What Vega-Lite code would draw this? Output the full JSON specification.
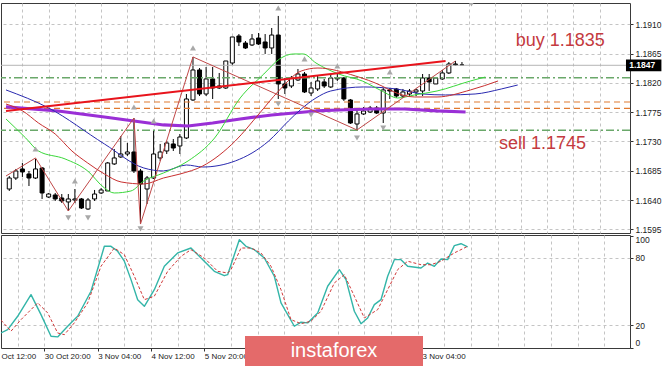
{
  "$schema": "https://vega.github.io/schema/vega-lite/v6.json",
  "padding": {"left": 0, "top": 2, "right": 0, "bottom": 0},
  "background": "white",
  "spacing": 2,
  "bounds": "flush",
  "config": {
    "font": "Liberation Sans",
    "view": {"stroke": "#3a3a3a", "strokeWidth": 1},
    "axis": {"labelFont": "Liberation Sans", "labelColor": "#222222", "domain": false, "gridColor": "#c4c4c4", "gridDash": [3, 3], "tickColor": "#333333", "zindex": 0}
  },
  "datasets": {
    "candles": [
      {"i": -6, "o": 1.16569, "h": 1.16769, "l": 1.16539, "c": 1.16738},
      {"i": -5, "o": 1.16738, "h": 1.16877, "l": 1.16708, "c": 1.16846},
      {"i": -4, "o": 1.16877, "h": 1.16969, "l": 1.16754, "c": 1.16831},
      {"i": -3, "o": 1.16800, "h": 1.16846, "l": 1.16615, "c": 1.16738},
      {"i": -2, "o": 1.16738, "h": 1.17031, "l": 1.16723, "c": 1.16877},
      {"i": -1, "o": 1.16892, "h": 1.16907, "l": 1.16416, "c": 1.16508},
      {"i": 0, "o": 1.16446, "h": 1.16508, "l": 1.16431, "c": 1.16492},
      {"i": 1, "o": 1.16477, "h": 1.16508, "l": 1.16385, "c": 1.16416},
      {"i": 2, "o": 1.16431, "h": 1.16492, "l": 1.16354, "c": 1.16385},
      {"i": 3, "o": 1.16370, "h": 1.16492, "l": 1.16231, "c": 1.16416},
      {"i": 4, "o": 1.16400, "h": 1.16569, "l": 1.16354, "c": 1.16416},
      {"i": 5, "o": 1.16416, "h": 1.16431, "l": 1.16262, "c": 1.16277},
      {"i": 6, "o": 1.16262, "h": 1.16431, "l": 1.16247, "c": 1.16400},
      {"i": 7, "o": 1.16416, "h": 1.16554, "l": 1.16385, "c": 1.16492},
      {"i": 8, "o": 1.16508, "h": 1.16585, "l": 1.16492, "c": 1.16554},
      {"i": 9, "o": 1.16539, "h": 1.16984, "l": 1.16539, "c": 1.16969},
      {"i": 10, "o": 1.16954, "h": 1.17184, "l": 1.16938, "c": 1.17046},
      {"i": 11, "o": 1.17061, "h": 1.17383, "l": 1.17046, "c": 1.17107},
      {"i": 12, "o": 1.17107, "h": 1.17276, "l": 1.17077, "c": 1.17138},
      {"i": 13, "o": 1.17138, "h": 1.17660, "l": 1.16815, "c": 1.16846},
      {"i": 14, "o": 1.16846, "h": 1.16877, "l": 1.16031, "c": 1.16646},
      {"i": 15, "o": 1.16569, "h": 1.16769, "l": 1.16339, "c": 1.16738},
      {"i": 16, "o": 1.16738, "h": 1.17476, "l": 1.16723, "c": 1.17107},
      {"i": 17, "o": 1.17046, "h": 1.17261, "l": 1.17000, "c": 1.17138},
      {"i": 18, "o": 1.17153, "h": 1.17307, "l": 1.17107, "c": 1.17276},
      {"i": 19, "o": 1.17261, "h": 1.17337, "l": 1.17153, "c": 1.17199},
      {"i": 20, "o": 1.17230, "h": 1.17414, "l": 1.17107, "c": 1.17368},
      {"i": 21, "o": 1.17353, "h": 1.18029, "l": 1.17337, "c": 1.17952},
      {"i": 22, "o": 1.17937, "h": 1.18598, "l": 1.17922, "c": 1.18398},
      {"i": 23, "o": 1.18398, "h": 1.18428, "l": 1.17998, "c": 1.18029},
      {"i": 24, "o": 1.18029, "h": 1.18444, "l": 1.17998, "c": 1.18260},
      {"i": 25, "o": 1.18260, "h": 1.18444, "l": 1.17952, "c": 1.18121},
      {"i": 26, "o": 1.18121, "h": 1.18352, "l": 1.18106, "c": 1.18152},
      {"i": 27, "o": 1.18121, "h": 1.18536, "l": 1.18106, "c": 1.18536},
      {"i": 28, "o": 1.18505, "h": 1.18905, "l": 1.18475, "c": 1.18905},
      {"i": 29, "o": 1.18920, "h": 1.18950, "l": 1.18766, "c": 1.18828},
      {"i": 30, "o": 1.18812, "h": 1.18843, "l": 1.18720, "c": 1.18736},
      {"i": 31, "o": 1.18782, "h": 1.18950, "l": 1.18766, "c": 1.18874},
      {"i": 32, "o": 1.18889, "h": 1.18966, "l": 1.18782, "c": 1.18797},
      {"i": 33, "o": 1.18828, "h": 1.18950, "l": 1.18644, "c": 1.18736},
      {"i": 34, "o": 1.18736, "h": 1.19043, "l": 1.18644, "c": 1.18935},
      {"i": 35, "o": 1.18935, "h": 1.19228, "l": 1.17952, "c": 1.18183},
      {"i": 36, "o": 1.18183, "h": 1.18275, "l": 1.18029, "c": 1.18121},
      {"i": 37, "o": 1.18152, "h": 1.18306, "l": 1.18121, "c": 1.18275},
      {"i": 38, "o": 1.18244, "h": 1.18413, "l": 1.18229, "c": 1.18336},
      {"i": 39, "o": 1.18336, "h": 1.18367, "l": 1.18044, "c": 1.18060},
      {"i": 40, "o": 1.18044, "h": 1.18214, "l": 1.17998, "c": 1.18121},
      {"i": 41, "o": 1.18106, "h": 1.18306, "l": 1.18075, "c": 1.18229},
      {"i": 42, "o": 1.18214, "h": 1.18260, "l": 1.18121, "c": 1.18152},
      {"i": 43, "o": 1.18137, "h": 1.18336, "l": 1.18121, "c": 1.18275},
      {"i": 44, "o": 1.18260, "h": 1.18336, "l": 1.18229, "c": 1.18275},
      {"i": 45, "o": 1.18275, "h": 1.18290, "l": 1.17922, "c": 1.17952},
      {"i": 46, "o": 1.17937, "h": 1.17952, "l": 1.17568, "c": 1.17583},
      {"i": 47, "o": 1.17568, "h": 1.17798, "l": 1.17476, "c": 1.17722},
      {"i": 48, "o": 1.17722, "h": 1.17829, "l": 1.17707, "c": 1.17768},
      {"i": 49, "o": 1.17752, "h": 1.17845, "l": 1.17737, "c": 1.17814},
      {"i": 50, "o": 1.17814, "h": 1.17845, "l": 1.17722, "c": 1.17737},
      {"i": 51, "o": 1.17737, "h": 1.18121, "l": 1.17583, "c": 1.18091},
      {"i": 52, "o": 1.18091, "h": 1.18121, "l": 1.17952, "c": 1.18075},
      {"i": 53, "o": 1.18106, "h": 1.18121, "l": 1.17968, "c": 1.17998},
      {"i": 54, "o": 1.17998, "h": 1.18106, "l": 1.17968, "c": 1.18060},
      {"i": 55, "o": 1.18029, "h": 1.18106, "l": 1.17998, "c": 1.18075},
      {"i": 56, "o": 1.18060, "h": 1.18106, "l": 1.17998, "c": 1.18091},
      {"i": 57, "o": 1.18075, "h": 1.18336, "l": 1.17998, "c": 1.18275},
      {"i": 58, "o": 1.18275, "h": 1.18336, "l": 1.18075, "c": 1.18214},
      {"i": 59, "o": 1.18183, "h": 1.18290, "l": 1.18183, "c": 1.18275},
      {"i": 60, "o": 1.18260, "h": 1.18398, "l": 1.18244, "c": 1.18352},
      {"i": 61, "o": 1.18352, "h": 1.18520, "l": 1.18336, "c": 1.18490},
      {"i": 62, "o": 1.18490, "h": 1.18536, "l": 1.18459, "c": 1.18475},
      {"i": 63, "o": 1.18475, "h": 1.18520, "l": 1.18475, "c": 1.18475}
    ],
    "purple": [
      {"i": -6.5, "p": 1.17830}, {"i": 1.45, "p": 1.17768}, {"i": 8.5, "p": 1.17675}, {"i": 13, "p": 1.17614},
      {"i": 17.5, "p": 1.17553}, {"i": 21.25, "p": 1.17537}, {"i": 25, "p": 1.17583}, {"i": 29.2, "p": 1.17645},
      {"i": 34, "p": 1.17706}, {"i": 40.75, "p": 1.17768}, {"i": 44.2, "p": 1.17783}, {"i": 49.3, "p": 1.17798},
      {"i": 54.25, "p": 1.17798}, {"i": 59.2, "p": 1.17768}, {"i": 63.55, "p": 1.17752}
    ],
    "blue": [
      {"i": -6.5, "p": 1.18091}, {"i": 0, "p": 1.17814}, {"i": 8.5, "p": 1.17261}, {"i": 14.5, "p": 1.16892},
      {"i": 17.5, "p": 1.16846}, {"i": 21, "p": 1.16938}, {"i": 23.5, "p": 1.16907}, {"i": 28.45, "p": 1.17000},
      {"i": 33.55, "p": 1.17307}, {"i": 36.55, "p": 1.17614}, {"i": 38.5, "p": 1.17798}, {"i": 40.75, "p": 1.17968},
      {"i": 43, "p": 1.18075}, {"i": 48, "p": 1.18137}, {"i": 53, "p": 1.18106}, {"i": 57, "p": 1.18029},
      {"i": 60.5, "p": 1.18014}, {"i": 65, "p": 1.18029}, {"i": 69, "p": 1.18106}, {"i": 71.5, "p": 1.18167}
    ],
    "green": [
      {"i": -6.5, "p": 1.17645}, {"i": -3.5, "p": 1.17353}, {"i": -1.55, "p": 1.17153}, {"i": 2.5, "p": 1.17031},
      {"i": 5.95, "p": 1.16846}, {"i": 8.5, "p": 1.16585}, {"i": 10, "p": 1.16508}, {"i": 12.55, "p": 1.16539},
      {"i": 14.5, "p": 1.16692}, {"i": 17.5, "p": 1.16815}, {"i": 21.25, "p": 1.17000}, {"i": 25.3, "p": 1.17353},
      {"i": 29.2, "p": 1.17968}, {"i": 32.8, "p": 1.18336}, {"i": 35.2, "p": 1.18567}, {"i": 37.3, "p": 1.18644},
      {"i": 38.8, "p": 1.18644}, {"i": 40.75, "p": 1.18505}, {"i": 44.2, "p": 1.18336}, {"i": 47.8, "p": 1.18229},
      {"i": 50.8, "p": 1.18075}, {"i": 53.2, "p": 1.17968}, {"i": 55.75, "p": 1.18014}, {"i": 59.2, "p": 1.18075},
      {"i": 64.3, "p": 1.18229}, {"i": 66.55, "p": 1.18290}
    ],
    "redma": [
      {"i": -6.5, "p": 1.17875}, {"i": -3.95, "p": 1.17768}, {"i": -1.55, "p": 1.17583}, {"i": 1, "p": 1.17414},
      {"i": 3.55, "p": 1.17153}, {"i": 5.95, "p": 1.16969}, {"i": 8.5, "p": 1.16800}, {"i": 11.05, "p": 1.16677},
      {"i": 14.5, "p": 1.16646}, {"i": 17.5, "p": 1.16738}, {"i": 20.05, "p": 1.16800}, {"i": 23.5, "p": 1.16923},
      {"i": 28.45, "p": 1.17307}, {"i": 32.05, "p": 1.17722}, {"i": 35.05, "p": 1.18075}, {"i": 38.5, "p": 1.18382},
      {"i": 41.05, "p": 1.18428}, {"i": 46.75, "p": 1.18306}, {"i": 50.8, "p": 1.18152}, {"i": 52.3, "p": 1.18075},
      {"i": 55.75, "p": 1.17983}, {"i": 59.2, "p": 1.17983}, {"i": 64.3, "p": 1.18091}, {"i": 68.5, "p": 1.18229}
    ],
    "zigzag": [
      {"i": -6.5, "p": 1.16769}, {"i": -2, "p": 1.17046}, {"i": 3, "p": 1.16231}, {"i": 13, "p": 1.17660},
      {"i": 14, "p": 1.16031}, {"i": 22, "p": 1.18598}, {"i": 47, "p": 1.17476}, {"i": 62, "p": 1.18536}
    ],
    "trend": [{"i": -6.5, "p": 1.17768}, {"i": 60.5, "p": 1.18536}],
    "levels": [
      {"p": 1.18278, "k": "g"}, {"p": 1.17906, "k": "o"}, {"p": 1.17809, "k": "o"}, {"p": 1.17471, "k": "g"}
    ],
    "bid": [{"p": 1.1847}],
    "arrows": [
      {"i": -2, "p": 1.17184, "d": "up"}, {"i": 4, "p": 1.16692, "d": "up"}, {"i": 13, "p": 1.17829, "d": "up"},
      {"i": 16, "p": 1.17614, "d": "up"}, {"i": 22, "p": 1.18736, "d": "up"}, {"i": 35, "p": 1.19350, "d": "up"},
      {"i": 39, "p": 1.18567, "d": "up"}, {"i": 44, "p": 1.18459, "d": "up"}, {"i": 52, "p": 1.18367, "d": "up"},
      {"i": 3, "p": 1.16124, "d": "down"}, {"i": 6, "p": 1.16124, "d": "down"}, {"i": 14, "p": 1.15955, "d": "down"},
      {"i": 35, "p": 1.17875, "d": "down"}, {"i": 40, "p": 1.17706, "d": "down"}, {"i": 47, "p": 1.17353, "d": "down"},
      {"i": 51, "p": 1.17506, "d": "down"}, {"i": 64.45, "p": 1.19412, "d": "down"}
    ],
    "notes": [
      {"i": 71.2, "p": 1.18843, "t": "buy 1.1835"},
      {"i": 68.65, "p": 1.17261, "t": "sell 1.1745"}
    ],
    "pricebox": [{"i": 88.0, "i2": 93.4, "p": 1.18560, "p2": 1.18380, "t": "1.1847", "pt": 1.1847, "it": 88.5}],
    "stmain": [
      {"i": -6.5, "v": 13.1}, {"i": -5.5, "v": 16.1}, {"i": -4, "v": 28.0}, {"i": -2, "v": 47.3}, {"i": -0.5, "v": 29.5},
      {"i": 1, "v": 10.2}, {"i": 2, "v": 9.6}, {"i": 3.5, "v": 19.1}, {"i": 5, "v": 28.0}, {"i": 7, "v": 50.3},
      {"i": 9, "v": 90.4}, {"i": 10, "v": 90.4}, {"i": 11, "v": 86.0}, {"i": 12, "v": 77.1}, {"i": 13, "v": 60.7},
      {"i": 14, "v": 42.8}, {"i": 15, "v": 36.9}, {"i": 16.5, "v": 51.7}, {"i": 18, "v": 72.6}, {"i": 20, "v": 84.5},
      {"i": 22, "v": 88.9}, {"i": 23.5, "v": 80.0}, {"i": 25.5, "v": 68.1}, {"i": 27, "v": 64.2}, {"i": 27.5, "v": 65.1},
      {"i": 28, "v": 74.0}, {"i": 29.25, "v": 96.3}, {"i": 30.25, "v": 90.4}, {"i": 31.5, "v": 87.4}, {"i": 33, "v": 80.0},
      {"i": 34.5, "v": 63.7}, {"i": 35.5, "v": 39.9}, {"i": 37.5, "v": 19.1}, {"i": 38.5, "v": 22.7}, {"i": 39.5, "v": 22.1},
      {"i": 41, "v": 31.0}, {"i": 42.5, "v": 54.8}, {"i": 44.25, "v": 69.6}, {"i": 45.25, "v": 60.7}, {"i": 46.5, "v": 32.5},
      {"i": 47.5, "v": 21.4}, {"i": 48.5, "v": 26.5}, {"i": 49.5, "v": 38.4}, {"i": 50.5, "v": 42.8}, {"i": 51.5, "v": 63.7},
      {"i": 52.5, "v": 78.5}, {"i": 53.5, "v": 78.5}, {"i": 54.5, "v": 72.6}, {"i": 56.5, "v": 71.1}, {"i": 57.5, "v": 75.5},
      {"i": 58.5, "v": 72.6}, {"i": 59.5, "v": 79.1}, {"i": 60.5, "v": 78.5}, {"i": 61.5, "v": 91.0}, {"i": 62.5, "v": 92.7},
      {"i": 63.5, "v": 89.8}
    ],
    "stsig": [
      {"i": -6.5, "v": 24.5}, {"i": -5, "v": 14.7}, {"i": -3.5, "v": 25.0}, {"i": -1, "v": 39.9}, {"i": 0.5, "v": 31.0},
      {"i": 2, "v": 13.1}, {"i": 3, "v": 11.6}, {"i": 4.5, "v": 22.1}, {"i": 6.5, "v": 39.9}, {"i": 8.5, "v": 72.6},
      {"i": 10.5, "v": 88.9}, {"i": 12, "v": 82.9}, {"i": 13.5, "v": 63.7}, {"i": 15, "v": 42.8}, {"i": 16.5, "v": 45.9},
      {"i": 18.5, "v": 68.1}, {"i": 20.5, "v": 81.5}, {"i": 22, "v": 87.4}, {"i": 24, "v": 80.0}, {"i": 26, "v": 68.1},
      {"i": 27.5, "v": 66.6}, {"i": 28, "v": 69.6}, {"i": 29.5, "v": 88.9}, {"i": 31, "v": 88.9}, {"i": 32.5, "v": 84.5},
      {"i": 34, "v": 72.6}, {"i": 35.5, "v": 51.7}, {"i": 37, "v": 25.0}, {"i": 38.5, "v": 21.4}, {"i": 40, "v": 23.6},
      {"i": 41.5, "v": 32.5}, {"i": 43.5, "v": 57.7}, {"i": 45, "v": 65.1}, {"i": 46.5, "v": 45.9}, {"i": 48, "v": 26.5},
      {"i": 50, "v": 33.9}, {"i": 51.5, "v": 51.7}, {"i": 53, "v": 69.6}, {"i": 54.5, "v": 77.1}, {"i": 56.5, "v": 74.0},
      {"i": 58, "v": 74.0}, {"i": 59.5, "v": 77.1}, {"i": 61.5, "v": 84.5}, {"i": 63.5, "v": 90.4}
    ],
    "watermark": [{"i": 30.1, "i2": 56.8, "v": 10.5, "v2": -17.2, "ti": 43.45, "tv": -3.2, "t": "instaforex"}]
  },
  "vconcat": [
    {
      "width": 629,
      "height": 230,
      "layer": [
        {
          "data": {"name": "candles"},
          "mark": {"type": "rule", "color": "#000000", "strokeWidth": 1, "clip": true},
          "encoding": {
            "x": {"field": "i", "type": "quantitative", "title": null,
              "scale": {"domain": [-6.5, 87.85], "nice": false, "zero": false},
              "axis": {"values": [-4, 0, 4, 8, 12, 16, 20, 24, 28, 32, 36, 40, 44, 48, 52, 56, 60, 64, 68, 72, 76, 80, 84], "tickCount": 1000, "labels": false, "ticks": false, "grid": true, "domain": false}},
            "y": {"field": "l", "type": "quantitative", "title": null,
              "scale": {"domain": [1.15893, 1.19427], "nice": false, "zero": false},
              "axis": {"orient": "right", "values": [1.1595, 1.164, 1.1685, 1.173, 1.1775, 1.182, 1.1865, 1.191], "tickCount": 1000, "format": ".4f", "grid": true, "tickSize": 3, "labelPadding": 2, "labelFontSize": 8.5, "labelOverlap": false}},
            "y2": {"field": "h"}
          }
        },
        {
          "data": {"name": "candles"},
          "mark": {"type": "bar", "orient": "vertical", "size": 4, "stroke": "#000000", "strokeWidth": 1, "clip": true},
          "encoding": {
            "x": {"field": "i", "type": "quantitative", "title": null, "scale": {"domain": [-6.5, 87.85], "nice": false, "zero": false}},
            "y": {"field": "o", "type": "quantitative", "title": null, "scale": {"domain": [1.15893, 1.19427], "nice": false, "zero": false}},
            "y2": {"field": "c"},
            "fill": {"condition": {"test": "datum.c >= datum.o", "value": "#ffffff"}, "value": "#000000"}
          }
        },
        {
          "data": {"name": "bid"},
          "mark": {"type": "rule", "color": "#b4b4b4", "strokeWidth": 1, "clip": true},
          "encoding": {
            "y": {"field": "p", "type": "quantitative", "title": null, "scale": {"domain": [1.15893, 1.19427], "nice": false, "zero": false}}
          }
        },
        {
          "data": {"name": "levels"},
          "transform": [{"filter": "datum.k == 'g'"}],
          "mark": {"type": "rule", "color": "#6aa86a", "strokeWidth": 1.6, "strokeDash": [8, 3, 2, 3], "clip": true},
          "encoding": {
            "y": {"field": "p", "type": "quantitative", "title": null, "scale": {"domain": [1.15893, 1.19427], "nice": false, "zero": false}}
          }
        },
        {
          "data": {"name": "levels"},
          "transform": [{"filter": "datum.k == 'o'"}],
          "mark": {"type": "rule", "color": "#e07a30", "strokeWidth": 1.2, "strokeDash": [6, 4], "clip": true},
          "encoding": {
            "y": {"field": "p", "type": "quantitative", "title": null, "scale": {"domain": [1.15893, 1.19427], "nice": false, "zero": false}}
          }
        },
        {
          "data": {"name": "purple"},
          "mark": {"type": "line", "color": "#9a2fd6", "strokeWidth": 3.2, "clip": true, "strokeJoin": "round"},
          "encoding": {
            "x": {"field": "i", "type": "quantitative", "title": null, "scale": {"domain": [-6.5, 87.85], "nice": false, "zero": false}},
            "y": {"field": "p", "type": "quantitative", "title": null, "scale": {"domain": [1.15893, 1.19427], "nice": false, "zero": false}}
          }
        },
        {
          "data": {"name": "blue"},
          "mark": {"type": "line", "color": "#2a2ab0", "strokeWidth": 1, "interpolate": "monotone", "clip": true, "strokeJoin": "round"},
          "encoding": {
            "x": {"field": "i", "type": "quantitative", "title": null, "scale": {"domain": [-6.5, 87.85], "nice": false, "zero": false}},
            "y": {"field": "p", "type": "quantitative", "title": null, "scale": {"domain": [1.15893, 1.19427], "nice": false, "zero": false}}
          }
        },
        {
          "data": {"name": "green"},
          "mark": {"type": "line", "color": "#3ad83a", "strokeWidth": 1, "interpolate": "monotone", "clip": true, "strokeJoin": "round"},
          "encoding": {
            "x": {"field": "i", "type": "quantitative", "title": null, "scale": {"domain": [-6.5, 87.85], "nice": false, "zero": false}},
            "y": {"field": "p", "type": "quantitative", "title": null, "scale": {"domain": [1.15893, 1.19427], "nice": false, "zero": false}}
          }
        },
        {
          "data": {"name": "redma"},
          "mark": {"type": "line", "color": "#c83030", "strokeWidth": 1, "interpolate": "monotone", "clip": true, "strokeJoin": "round"},
          "encoding": {
            "x": {"field": "i", "type": "quantitative", "title": null, "scale": {"domain": [-6.5, 87.85], "nice": false, "zero": false}},
            "y": {"field": "p", "type": "quantitative", "title": null, "scale": {"domain": [1.15893, 1.19427], "nice": false, "zero": false}}
          }
        },
        {
          "data": {"name": "zigzag"},
          "mark": {"type": "line", "color": "#c04848", "strokeWidth": 1, "clip": true, "strokeJoin": "round"},
          "encoding": {
            "x": {"field": "i", "type": "quantitative", "title": null, "scale": {"domain": [-6.5, 87.85], "nice": false, "zero": false}},
            "y": {"field": "p", "type": "quantitative", "title": null, "scale": {"domain": [1.15893, 1.19427], "nice": false, "zero": false}}
          }
        },
        {
          "data": {"name": "trend"},
          "mark": {"type": "line", "color": "#e8141c", "strokeWidth": 2, "clip": true, "strokeJoin": "round"},
          "encoding": {
            "x": {"field": "i", "type": "quantitative", "title": null, "scale": {"domain": [-6.5, 87.85], "nice": false, "zero": false}},
            "y": {"field": "p", "type": "quantitative", "title": null, "scale": {"domain": [1.15893, 1.19427], "nice": false, "zero": false}}
          }
        },
        {
          "data": {"name": "arrows"},
          "mark": {"type": "point", "filled": true, "size": 36, "color": "#a8a8a8", "opacity": 1, "clip": true},
          "encoding": {
            "x": {"field": "i", "type": "quantitative", "title": null, "scale": {"domain": [-6.5, 87.85], "nice": false, "zero": false}},
            "y": {"field": "p", "type": "quantitative", "title": null, "scale": {"domain": [1.15893, 1.19427], "nice": false, "zero": false}},
            "shape": {"field": "d", "type": "nominal", "legend": null, "scale": {"domain": ["up", "down"], "range": ["triangle-up", "triangle-down"]}}
          }
        },
        {
          "data": {"name": "notes"},
          "mark": {"type": "text", "color": "#c43a40", "fontSize": 18, "align": "left", "baseline": "middle"},
          "encoding": {
            "x": {"field": "i", "type": "quantitative", "title": null, "scale": {"domain": [-6.5, 87.85], "nice": false, "zero": false}},
            "y": {"field": "p", "type": "quantitative", "title": null, "scale": {"domain": [1.15893, 1.19427], "nice": false, "zero": false}},
            "text": {"field": "t"}
          }
        },
        {
          "data": {"name": "pricebox"},
          "mark": {"type": "rect", "color": "#000000", "clip": false},
          "encoding": {
            "x": {"field": "i", "type": "quantitative", "title": null, "scale": {"domain": [-6.5, 87.85], "nice": false, "zero": false}},
            "x2": {"field": "i2"},
            "y": {"field": "p", "type": "quantitative", "title": null, "scale": {"domain": [1.15893, 1.19427], "nice": false, "zero": false}},
            "y2": {"field": "p2"}
          }
        },
        {
          "data": {"name": "pricebox"},
          "mark": {"type": "text", "color": "#ffffff", "fontSize": 8.5, "fontWeight": "bold", "align": "left", "baseline": "middle", "clip": false},
          "encoding": {
            "x": {"field": "it", "type": "quantitative", "title": null, "scale": {"domain": [-6.5, 87.85], "nice": false, "zero": false}},
            "y": {"field": "pt", "type": "quantitative", "title": null, "scale": {"domain": [1.15893, 1.19427], "nice": false, "zero": false}},
            "text": {"field": "t"}
          }
        }
      ]
    },
    {
      "width": 629,
      "height": 113,
      "layer": [
        {
          "data": {"name": "stmain"},
          "mark": {"type": "line", "color": "#33b5a8", "strokeWidth": 1.4, "clip": true, "strokeJoin": "round"},
          "encoding": {
            "x": {"field": "i", "type": "quantitative", "title": null,
              "scale": {"domain": [-6.5, 87.85], "nice": false, "zero": false},
              "axis": {
                "values": [-6.5, -4, 0, 4, 8, 12, 16, 20, 24, 28, 32, 36, 40, 44, 48, 52, 56, 60, 64, 68, 72, 76, 80, 84],
                "tickCount": 1000,
                "labelExpr": "datum.value == -6.5 ? 'Oct 12:00' : datum.value == 0 ? '30 Oct 20:00' : datum.value == 8 ? '3 Nov 04:00' : datum.value == 16 ? '4 Nov 12:00' : datum.value == 24 ? '5 Nov 20:00' : datum.value == 56 ? '13 Nov 04:00' : ''",
                "labelAlign": "left", "labelFontSize": 8, "labelPadding": 1, "labelOverlap": false, "labelFlush": false, "labelBound": false,
                "tickSize": 3,
                "tickOpacity": {"condition": {"test": "datum.value >= 0 && datum.value <= 56 && datum.value % 8 == 0", "value": 1}, "value": 0},
                "gridOpacity": {"condition": {"test": "datum.value < -5", "value": 0}, "value": 1},
                "grid": true, "domain": false
              }},
            "y": {"field": "v", "type": "quantitative", "title": null,
              "scale": {"domain": [-0.3, 100.5], "nice": false, "zero": false},
              "axis": {"orient": "right", "values": [0, 20, 80, 100], "tickCount": 1000, "format": "d", "grid": true, "tickSize": 3, "labelPadding": 2, "labelFontSize": 8.5, "labelFlush": true, "labelOverlap": false,
                "gridOpacity": {"condition": {"test": "datum.value == 0 || datum.value == 100", "value": 0}, "value": 1}}}
          }
        },
        {
          "data": {"name": "stsig"},
          "mark": {"type": "line", "color": "#d03838", "strokeWidth": 1, "strokeDash": [3, 2], "clip": true, "strokeJoin": "round"},
          "encoding": {
            "x": {"field": "i", "type": "quantitative", "title": null, "scale": {"domain": [-6.5, 87.85], "nice": false, "zero": false}},
            "y": {"field": "v", "type": "quantitative", "title": null, "scale": {"domain": [-0.3, 100.5], "nice": false, "zero": false}}
          }
        },
        {
          "data": {"name": "watermark"},
          "mark": {"type": "rect", "color": "#e46a6a", "opacity": 1, "clip": false},
          "encoding": {
            "x": {"field": "i", "type": "quantitative", "title": null, "scale": {"domain": [-6.5, 87.85], "nice": false, "zero": false}},
            "x2": {"field": "i2"},
            "y": {"field": "v", "type": "quantitative", "title": null, "scale": {"domain": [-0.3, 100.5], "nice": false, "zero": false}},
            "y2": {"field": "v2"}
          }
        },
        {
          "data": {"name": "watermark"},
          "mark": {"type": "text", "color": "#ffffff", "fontSize": 20, "align": "center", "baseline": "middle", "clip": false},
          "encoding": {
            "x": {"field": "ti", "type": "quantitative", "title": null, "scale": {"domain": [-6.5, 87.85], "nice": false, "zero": false}},
            "y": {"field": "tv", "type": "quantitative", "title": null, "scale": {"domain": [-0.3, 100.5], "nice": false, "zero": false}},
            "text": {"field": "t"}
          }
        }
      ]
    }
  ]
}
